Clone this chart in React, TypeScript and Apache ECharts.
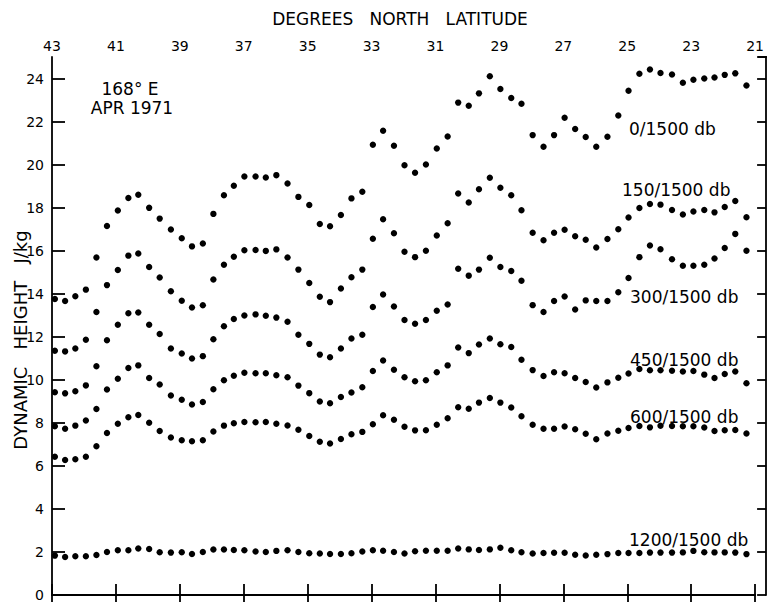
import React, { useEffect, useRef } from "react";
import * as echarts from "echarts";

// Station latitudes (degrees N)
const LAT = [
  42.91, 42.59, 42.27, 41.94, 41.61, 41.28, 40.94, 40.61, 40.3, 39.96,
  39.63, 39.28, 38.94, 38.62, 38.28, 37.95, 37.62, 37.31, 36.98, 36.63,
  36.31, 35.98, 35.63, 35.29, 34.95, 34.62, 34.3, 33.96, 33.63, 33.29,
  32.96, 32.64, 32.3, 31.97, 31.64, 31.3, 30.96, 30.62, 30.29, 29.96,
  29.64, 29.3, 28.97, 28.63, 28.31, 27.96, 27.62, 27.29, 26.96, 26.63,
  26.3, 25.97, 25.62, 25.28, 24.96, 24.62, 24.29, 23.96, 23.6, 23.26,
  22.93, 22.59, 22.27, 21.95, 21.62, 21.27, 20.95,
];

// Dynamic height (J/kg) relative to 1500 db
const H0 = [
  13.75, 13.66, 13.88, 14.19, 15.68, 17.15, 17.87, 18.45, 18.6, 17.99,
  17.49, 16.98, 16.58, 16.2, 16.33, 17.71, 18.58, 19.02, 19.45, 19.45,
  19.4, 19.51, 19.12, 18.5, 18.12, 17.24, 17.14, 17.66, 18.43, 18.74,
  20.92, 21.57, 20.88, 19.97, 19.62, 20.0, 20.75, 21.31, 22.88, 22.73,
  23.31, 24.11, 23.51, 23.09, 22.83, 21.37, 20.83, 21.37, 22.18, 21.65,
  21.28, 20.83, 21.29, 22.28, 23.43, 24.22, 24.42, 24.26, 24.19, 23.8,
  23.94, 24.0, 24.05, 24.17, 24.24, 23.68, 23.34,
];
const H150 = [
  11.35, 11.32, 11.45, 11.86, 13.15, 14.4, 15.1, 15.77, 15.87, 15.24,
  14.75, 14.11, 13.67, 13.36, 13.46, 14.66, 15.35, 15.72, 16.02, 16.03,
  15.99, 16.06, 15.68, 15.12, 14.5, 13.86, 13.61, 14.24, 14.77, 15.12,
  16.55, 17.46, 16.81, 15.95, 15.7, 16.0, 16.71, 17.27, 18.66, 18.24,
  18.85, 19.39, 18.92, 18.58, 17.88, 16.83, 16.48, 16.83, 16.97, 16.67,
  16.51, 16.15, 16.54, 17.0, 17.54, 17.98, 18.17, 18.14, 17.89, 17.68,
  17.82, 17.89, 17.78, 18.03, 18.31, 17.55, 17.2,
];
const H300 = [
  9.42, 9.37, 9.47, 9.74, 10.63, 11.84, 12.56, 13.09, 13.13, 12.56,
  12.13, 11.45, 11.22, 10.99, 11.1, 11.88, 12.49, 12.83, 12.99, 13.04,
  12.98, 12.89, 12.7, 12.09, 11.67, 11.17, 11.05, 11.45, 11.92, 12.09,
  13.38, 13.96, 13.41, 12.78, 12.6, 12.78, 13.21, 13.5, 15.16, 14.84,
  15.12, 15.67, 15.24, 15.06, 14.6, 13.47, 13.15, 13.66, 13.87, 13.27,
  13.69, 13.66, 13.66, 14.07, 14.73, 15.7, 16.24, 16.07, 15.6, 15.3,
  15.3, 15.35, 15.64, 16.12, 16.78, 16.0, 15.35,
];
const H450 = [
  7.84, 7.73, 7.87, 8.11, 8.64, 9.55, 10.05, 10.55, 10.67, 10.08,
  9.78, 9.27, 9.07, 8.85, 8.97, 9.56, 9.98, 10.19, 10.33, 10.3,
  10.3, 10.21, 10.12, 9.73, 9.38, 8.99, 8.91, 9.2, 9.41, 9.65,
  10.41, 10.9, 10.47, 10.12, 9.93, 9.98, 10.35, 10.67, 11.5, 11.24,
  11.64, 11.92, 11.65, 11.52, 10.93, 10.45, 10.18, 10.35, 10.3, 10.08,
  9.9, 9.64, 9.88, 10.1, 10.29, 10.5, 10.44, 10.44, 10.42, 10.39,
  10.41, 10.24, 10.08, 10.27, 10.39, 9.84, 9.71,
];
const H600 = [
  6.42, 6.27, 6.31, 6.42, 6.91, 7.53, 7.96, 8.26, 8.36, 8.0,
  7.62, 7.32, 7.19, 7.14, 7.19, 7.6, 7.87, 7.98, 8.04, 8.03,
  8.04, 7.96, 7.88, 7.68, 7.39, 7.12, 7.04, 7.25, 7.47, 7.58,
  7.93, 8.35, 8.14, 7.82, 7.65, 7.66, 7.91, 8.21, 8.72, 8.65,
  8.94, 9.15, 8.94, 8.71, 8.31, 7.91, 7.73, 7.73, 7.83, 7.7,
  7.49, 7.24, 7.5, 7.63, 7.76, 7.85, 7.79, 7.86, 7.85, 7.84,
  7.84, 7.78, 7.62, 7.66, 7.67, 7.5, 7.42,
];
const H1200 = [
  1.83, 1.77, 1.8, 1.8, 1.86, 2.0, 2.08, 2.08, 2.16, 2.14,
  1.99, 1.97, 1.99, 1.91, 2.0, 2.11, 2.11, 2.09, 2.08, 2.02,
  2.0, 2.05, 2.08, 2.0, 1.94, 1.93, 1.91, 1.91, 1.94, 2.02,
  2.08, 2.06, 2.0, 1.93, 2.03, 2.06, 2.06, 2.06, 2.16, 2.12,
  2.09, 2.12, 2.2, 2.08, 1.99, 1.93, 1.95, 1.96, 1.96, 1.87,
  1.84, 1.87, 1.9, 1.95, 1.95, 1.95, 1.97, 1.97, 1.97, 1.98,
  2.05, 1.99, 1.98, 1.98, 1.97, 1.9, 1.87,
];

const SERIES_NAMES = ["0/1500 db", "150/1500 db", "300/1500 db", "450/1500 db", "600/1500 db", "1200/1500 db"];
const SERIES_VALUES = [H0, H150, H300, H450, H600, H1200];

const FONT = "DejaVu Sans";
const INK = "#000";

export default function App() {
  const ref = useRef<HTMLDivElement>(null);

  useEffect(() => {
    if (!ref.current) return;
    const chart = echarts.init(ref.current, null, { renderer: "svg" });

    const labelText = (text: string, x: number, y: number, size = 17) => ({
      type: "text",
      x,
      y,
      style: {
        text,
        fill: INK,
        font: `${size}px "${FONT}"`,
        textAlign: "left",
        textVerticalAlign: "middle",
      },
    });

    chart.setOption({
      animation: false,
      backgroundColor: "#fff",
      grid: { left: 52, right: 9, top: 57, bottom: 3, containLabel: false },
      xAxis: [
        {
          type: "value",
          position: "top",
          min: 21,
          max: 43,
          interval: 2,
          inverse: true,
          splitLine: { show: false },
          axisLine: { lineStyle: { color: INK, width: 1.8 } },
          axisTick: { inside: true, length: 8, lineStyle: { color: INK, width: 1.8 } },
          axisLabel: { color: INK, fontFamily: FONT, fontSize: 14, margin: 4 },
        },
        {
          type: "value",
          position: "bottom",
          min: 21,
          max: 43,
          interval: 2,
          inverse: true,
          splitLine: { show: false },
          axisLine: { lineStyle: { color: INK, width: 1.8 } },
          axisTick: { inside: true, length: 11, lineStyle: { color: INK, width: 1.8 } },
          axisLabel: { show: false },
        },
      ],
      yAxis: [
        {
          type: "value",
          min: 0,
          max: 25,
          interval: 2,
          splitLine: { show: false },
          axisLine: { show: true, lineStyle: { color: INK, width: 1.8 } },
          axisTick: { show: true, inside: true, length: 13, lineStyle: { color: INK, width: 1.8 } },
          axisLabel: { color: INK, fontFamily: FONT, fontSize: 14, margin: 8, showMaxLabel: false },
        },
        {
          type: "value",
          position: "right",
          offset: 11,
          min: 0,
          max: 25,
          interval: 2,
          splitLine: { show: false },
          axisLine: { show: true, lineStyle: { color: INK, width: 1.8 } },
          axisTick: { show: true, inside: true, length: 9, lineStyle: { color: INK, width: 1.8 } },
          axisLabel: { show: false },
        },
      ],
      series: SERIES_NAMES.map((name, s) => ({
        name,
        type: "scatter",
        xAxisIndex: 0,
        yAxisIndex: 0,
        symbol: "circle",
        symbolSize: 6.4,
        itemStyle: { color: INK, opacity: 1 },
        silent: true,
        data: LAT.map((lat, i) => [lat, SERIES_VALUES[s][i]]),
      })),
      graphic: [
        {
          type: "line",
          shape: { x1: 758, y1: 57, x2: 767, y2: 57 },
          style: { stroke: INK, lineWidth: 1.8 },
        },
        {
          type: "text",
          x: 400,
          y: 19,
          style: {
            text: "DEGREES\u00a0\u00a0\u00a0NORTH\u00a0\u00a0\u00a0LATITUDE",
            fill: INK,
            font: `17px "${FONT}"`,
            textAlign: "center",
            textVerticalAlign: "middle",
          },
        },
        {
          type: "text",
          x: 20,
          y: 340,
          rotation: Math.PI / 2,
          style: {
            text: "DYNAMIC\u00a0\u00a0\u00a0HEIGHT\u00a0\u00a0\u00a0J/kg",
            fill: INK,
            font: `18px "${FONT}"`,
            textAlign: "center",
            textVerticalAlign: "middle",
          },
        },
        {
          type: "text",
          x: 130,
          y: 89,
          style: { text: "168° E", fill: INK, font: `17px "${FONT}"`, textAlign: "center", textVerticalAlign: "middle" },
        },
        {
          type: "text",
          x: 132,
          y: 108,
          style: { text: "APR 1971", fill: INK, font: `17px "${FONT}"`, textAlign: "center", textVerticalAlign: "middle" },
        },
        labelText(SERIES_NAMES[0], 629, 129),
        labelText(SERIES_NAMES[1], 622, 190),
        labelText(SERIES_NAMES[2], 630, 297),
        labelText(SERIES_NAMES[3], 630, 360),
        labelText(SERIES_NAMES[4], 630, 417),
        labelText(SERIES_NAMES[5], 629, 540),
      ],
    });

    return () => chart.dispose();
  }, []);

  return (
    <div
      ref={ref}
      style={{ position: "absolute", left: 0, top: 0, width: 767, height: 602, background: "#fff" }}
    />
  );
}
